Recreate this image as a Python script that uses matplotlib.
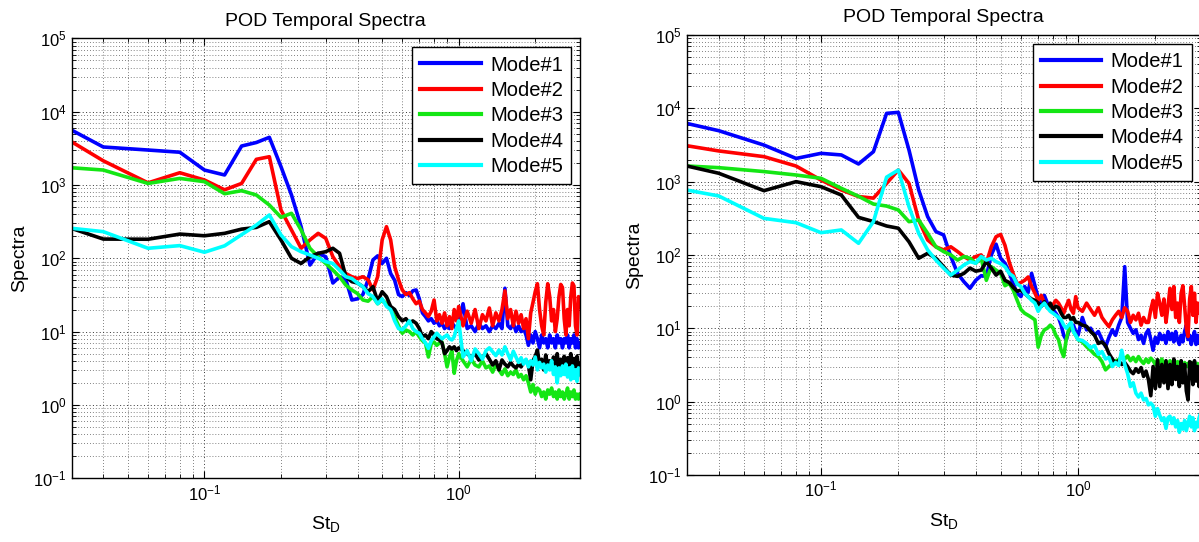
import numpy as np
import matplotlib
matplotlib.use("Agg")
import matplotlib.pyplot as plt
from matplotlib.ticker import LogLocator, NullFormatter, FixedLocator

plt.rcParams['font.family'] = ['Liberation Sans', 'DejaVu Sans']
plt.rcParams['mathtext.fontset'] = 'custom'
plt.rcParams['mathtext.rm'] = 'Liberation Sans'
plt.rcParams['mathtext.it'] = 'Liberation Sans:italic'

# Strouhal number grid: 0.02 steps up to 1, then 0.04 steps up to 3
st = np.concatenate([np.arange(1, 51) * 0.02, 1.0 + np.arange(1, 51) * 0.04])

mode_labels = ['Mode#1', 'Mode#2', 'Mode#3', 'Mode#4', 'Mode#5']
mode_colors = ['#0000ff', '#ff0000', '#14e614', '#000000', '#00ffff']
x_ticks = [0.1, 1.0]
y_ticks = [1e-1, 1e0, 1e1, 1e2, 1e3, 1e4, 1e5]

# ---- left panel ----
left_mode1 = [11900, 3300, 3000, 2800, 1600, 1370, 3400, 3800, 4470, 1780,
              730, 270, 81, 117, 105, 46, 56, 51, 27, 28,
              32, 51, 95, 108, 85, 100, 62, 50, 32, 30,
              34, 31, 36, 37, 28, 18, 16, 14, 15, 13,
              14, 12, 13, 11, 12, 11, 13, 12, 11, 13,
              24, 11, 12, 10, 13, 11, 12, 10, 12, 11,
              13, 11, 39, 12, 11, 13, 10, 12, 10, 11,
              9, 6.5, 9, 7, 10, 8, 6, 9, 7, 8,
              6, 9, 7, 8, 6, 9, 7, 8, 6, 8,
              7, 9, 6, 8, 7, 9, 6, 8, 6, 7]
left_mode2 = [9060, 2140, 1070, 1470, 1170, 860, 1050, 2240, 2430, 456,
              243, 137, 178, 219, 187, 105, 77, 62, 56, 53,
              56, 51, 37, 56, 178, 270, 178, 77, 51, 37,
              32, 34, 28, 24, 26, 20, 18, 16, 19, 27,
              14, 17, 13, 18, 12, 16, 11, 20, 14, 22,
              12, 19, 13, 20, 11, 17, 14, 21, 12, 18,
              14, 20, 36, 15, 20, 12, 19, 13, 17, 11,
              15, 8, 18, 25, 35, 45, 20, 12, 9, 25,
              45, 30, 14, 20, 10, 15, 30, 44, 40, 15,
              9, 20, 12, 30, 46, 42, 12, 9, 30, 22]
left_mode3 = [1900, 1600, 1050, 1230, 1110, 760, 837, 730, 533, 362,
              411, 243, 137, 105, 85, 69, 56, 43, 37, 33,
              27, 26, 30, 24, 27, 24, 20, 16, 12, 9.5,
              10.5, 10, 9, 10, 8.5, 7.5, 7, 4.5, 6.9, 7.2,
              6.5, 7, 7.2, 5, 3.3, 4.5, 5.5, 2.7, 4, 5,
              4, 3.3, 4.2, 3.5, 3.3, 4, 3.2, 3.4, 2.8, 3.6,
              3, 2.6, 3.1, 2.5, 2.8, 2.6, 3, 2.4, 2.6, 2.2,
              2.5, 2, 1.5, 1.9, 1.4, 1.7, 1.6, 1.3, 1.5, 1.2,
              1.6, 1.4, 1.7, 1.3, 1.5, 1.2, 1.6, 1.3, 1.5, 1.2,
              1.4, 1.7, 1.2, 1.5, 1.3, 1.6, 1.2, 1.4, 1.2, 1.4]
left_mode4 = [411, 183, 182, 214, 203, 219, 250, 264, 316, 178,
              100, 85, 105, 117, 123, 137, 117, 56, 48, 46,
              41, 35, 41, 26, 35, 30, 22, 20, 16, 14,
              15, 13, 14, 13, 11, 8.5, 9, 8, 10, 9,
              8, 7.7, 7, 5, 5.5, 6.2, 5.8, 6.2, 5.5, 6,
              5.5, 5, 4.5, 5, 4.1, 4.5, 5, 4.2, 3.5, 4,
              3, 4.1, 3.6, 3.3, 3.8, 3.4, 3.2, 3.6, 3.3, 3.8,
              4.1, 3.5, 2.2, 4, 4.6, 5.6, 3.5, 4.2, 3, 4.8,
              3.4, 4, 3.1, 4.5, 3.2, 5, 3, 4.2, 3.3, 4.6,
              3.1, 4.4, 3.2, 5, 3, 4.3, 3.3, 4.6, 3.2, 3.6]
left_mode5 = [298, 231, 137, 149, 121, 148, 210, 284, 390, 208,
              144, 123, 111, 100, 90, 85, 69, 56, 53, 46,
              41, 33, 30, 24, 28, 22, 20, 14, 11, 10.6,
              12, 14, 11, 10, 9.5, 8, 7, 5.9, 7.5, 8.5,
              9.5, 8.7, 8, 8.5, 9, 8, 7.7, 8.5, 11, 14,
              4.5, 5.5, 4, 5.8, 5, 4.2, 5.5, 6, 5.3, 4.7,
              5.6, 4.8, 6.2, 5, 4.1, 5.4, 4.5, 3.8, 4.4, 3.6,
              4.2, 3.3, 4, 3.5, 4.5, 3, 3.8, 3.2, 3.6, 2.8,
              3.5, 3, 4, 2.6, 3.3, 2, 3.2, 2.5, 3.4, 2.6,
              3.6, 2.4, 3.2, 2.2, 3.4, 2.3, 3, 2.1, 3.2, 2.6]

# ---- right panel ----
right_mode1 = [8600, 4950, 3150, 2070, 2430, 2310, 1740, 2560, 8530, 8800,
               2700, 768, 333, 208, 187, 95, 56, 43, 35, 45,
               52, 51, 100, 140, 90, 77, 58, 40, 30, 27,
               37, 31, 56, 38, 26, 20, 28, 22, 20, 18,
               16, 14, 11, 8, 6.9, 9, 10, 11, 9, 8,
               14, 9.5, 10, 8, 9, 7, 5.6, 7.5, 9.5, 8,
               11, 14, 69, 12, 10, 8.5, 9.5, 7, 8, 6.2,
               8.5, 9.5, 7, 5, 7.5, 6.2, 8.5, 7, 8, 6.2,
               9, 7, 8.5, 6.5, 9, 7, 6, 8, 6.5, 9,
               11, 7, 8, 6, 7.5, 9, 6, 8, 6.5, 6]
right_mode2 = [3900, 2620, 2190, 1630, 1050, 768, 625, 595, 946, 1440,
               946, 299, 160, 129, 117, 129, 111, 95, 85, 95,
               100, 77, 129, 177, 190, 135, 80, 55, 40, 42,
               45, 50, 37, 30, 24, 28, 22, 20, 18, 21,
               24, 22, 19, 16, 20, 24, 18, 16, 27, 19,
               17, 22, 18, 15, 19, 14, 12, 10.5, 13, 15,
               17, 14, 19, 17, 12, 15, 13, 16, 11, 14,
               12, 12, 18, 24, 14, 30, 22, 15, 25, 12,
               20, 35, 18, 37, 14, 22, 12, 30, 38, 20,
               10, 7.7, 25, 37, 15, 30, 12, 22, 16, 20]
right_mode3 = [1760, 1550, 1370, 1230, 1110, 810, 630, 494, 464, 410,
               284, 299, 197, 129, 111, 100, 85, 95, 90, 77,
               90, 45, 69, 62, 56, 38, 41, 33, 24, 18,
               16, 15, 14, 13, 5.5, 8, 9.5, 10, 11, 10,
               8, 7, 5, 4.1, 7, 9.5, 11, 9, 8, 7,
               6.5, 5.6, 5, 4.4, 4.1, 3.5, 2.7, 3, 3.3, 3.6,
               3.7, 4.1, 3.8, 4.2, 3.6, 4, 3.5, 4.1, 3.6, 3.3,
               3.8, 3.4, 3.9, 3.6, 3.2, 3.7, 3.3, 3.8, 3.1, 3.5,
               2.9, 3.6, 3.2, 3.4, 2.8, 3.5, 3.1, 3.3, 2.9, 3.4,
               3, 3.3, 2.8, 3.4, 3.1, 3.2, 2.9, 3.3, 3, 3.1]
right_mode4 = [2260, 1300, 752, 998, 853, 656, 325, 285, 248, 231,
               151, 90, 105, 90, 69, 53, 51, 56, 66, 60,
               62, 81, 66, 53, 60, 45, 42, 36, 32, 33,
               30, 27, 25, 24, 22, 20, 23, 19, 22, 18,
               20, 19, 16, 14, 14, 15, 13, 14, 12, 12,
               11, 10.6, 9, 8, 6.2, 6.5, 5.8, 4.5, 3.8, 3.3,
               3.6, 3.2, 3.4, 3, 2.6, 2.4, 2.8, 2.5, 2.9, 2.2,
               2.6, 2, 1.2, 3, 1.5, 3.7, 1.6, 3.2, 1.8, 3.6,
               1.5, 3.2, 1.7, 3.8, 2, 3, 1.6, 3.6, 1.8, 3.2,
               1.4, 1.05, 3.5, 3.3, 1.7, 3.6, 1.9, 3, 1.6, 2.8]
right_mode5 = [1000, 637, 315, 275, 201, 219, 144, 284, 1150, 1440,
               455, 197, 117, 85, 66, 53, 62, 73, 81, 77,
               95, 85, 90, 81, 76, 69, 56, 51, 40, 37,
               30, 27, 24, 22, 17, 20, 22, 19, 17, 16,
               15, 14, 13, 11, 10, 11, 12, 9, 8, 7,
               6.8, 6.2, 5.4, 5.8, 4.4, 4.8, 3.8, 4, 3, 3.4,
               3.1, 5, 3.2, 2.4, 1.6, 1.8, 1.3, 1.15, 1.3, 1.05,
               1.1, 0.9, 0.95, 0.87, 0.63, 0.8, 0.65, 0.55, 0.6, 0.43,
               0.6, 0.63, 0.5, 0.6, 0.45, 0.55, 0.38, 0.5, 0.42, 0.55,
               0.4, 0.5, 0.63, 0.45, 0.6, 0.4, 0.52, 0.45, 0.6, 0.7]


def draw_panel(ax, series):
    for vals, color, label in zip(series, mode_colors, mode_labels):
        ax.plot(st, vals, color=color, lw=2.6, label=label)
    ax.set_xscale('log')
    ax.set_yscale('log')
    ax.set_xlim(0.03, 3)
    ax.set_ylim(1e-1, 1e5)
    # only the ticks inside the view, so no stray labels outside the axes
    ax.xaxis.set_major_locator(FixedLocator(x_ticks))
    ax.yaxis.set_major_locator(FixedLocator(y_ticks))
    ax.xaxis.set_minor_locator(LogLocator(base=10, subs=np.arange(2, 10), numticks=100))
    ax.yaxis.set_minor_locator(LogLocator(base=10, subs=np.arange(2, 10), numticks=100))
    ax.xaxis.set_minor_formatter(NullFormatter())
    ax.yaxis.set_minor_formatter(NullFormatter())
    # MATLAB-like sparse dotted grid
    ax.grid(True, which='major', linestyle=(0, (1, 2.5)), color='0.2', lw=0.7)
    ax.grid(True, which='minor', linestyle=(0, (1, 2.5)), color='0.35', lw=0.6)
    ax.tick_params(which='both', direction='in', top=True, right=True, labelsize=12)
    ax.tick_params(which='major', length=5)
    ax.tick_params(which='minor', length=3)
    ax.set_title('POD Temporal Spectra', fontsize=14, pad=9)
    ax.set_xlabel(r'St$_\mathrm{D}$', fontsize=14, labelpad=8)
    ax.set_ylabel('Spectra', fontsize=14, labelpad=4)
    for sp in ax.spines.values():
        sp.set_linewidth(1.0)
    leg = ax.legend(loc='upper right', fontsize=14.5, frameon=True, fancybox=False,
                    edgecolor='black', framealpha=1, handlelength=3.0,
                    handletextpad=0.45, labelspacing=0.32, borderaxespad=0.45,
                    borderpad=0.4)
    leg.get_frame().set_linewidth(1.0)
    for line in leg.get_lines():
        line.set_linewidth(3)


fig = plt.figure(figsize=(11.99, 5.42), dpi=100)
ax_left = fig.add_axes([71.5 / 1199, (542 - 478.2) / 542, 508.5 / 1199, 439.8 / 542])
ax_right = fig.add_axes([686.6 / 1199, (542 - 474.8) / 542, 514 / 1199, 439.8 / 542])

draw_panel(ax_left, [left_mode1, left_mode2, left_mode3, left_mode4, left_mode5])
draw_panel(ax_right, [right_mode1, right_mode2, right_mode3, right_mode4, right_mode5])

fig.savefig('out.png', dpi=100, facecolor='white')
